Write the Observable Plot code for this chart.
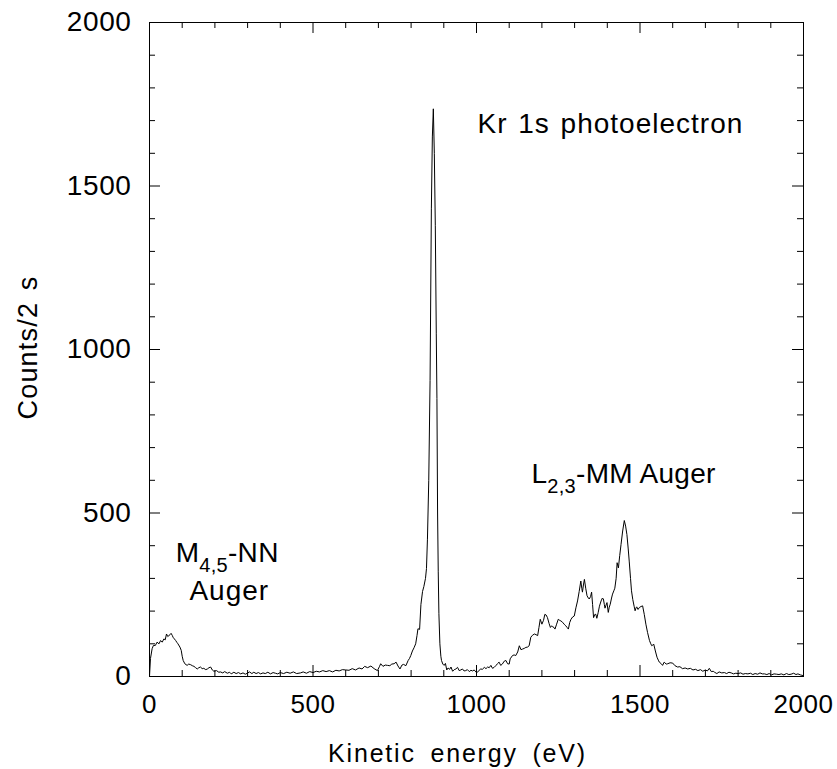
<!DOCTYPE html>
<html>
<head>
<meta charset="utf-8">
<script src="https://cdn.jsdelivr.net/npm/d3@7"></script>
<script src="https://cdn.jsdelivr.net/npm/@observablehq/plot@0.6"></script>
<style>
  html, body { margin: 0; padding: 0; background: #fff; }
  #chart svg { display: block; }
</style>
</head>
<body>
<div id="chart"></div>
<script>
// ---- Data ----
const energy = [
  0, 3, 8, 12, 18, 23, 29, 34, 39, 44, 48, 52, 56, 59, 63, 66, 70, 72, 76, 80, 84, 87, 93, 97, 100, 103, 108,
  115, 120, 126, 131, 136, 141, 146, 151, 156, 161, 166, 172, 177, 182, 187, 192, 197, 205, 212, 217, 224, 230,
  238, 245, 250, 258, 265, 272, 279, 286, 293, 299, 306, 313, 319, 326, 333, 340, 347, 354, 362, 370, 378, 385,
  392, 400, 410, 420, 430, 440, 450, 462, 470, 480, 490, 500, 510, 520, 530, 540, 550, 560, 570, 580, 590, 600,
  610, 620, 630, 641, 650, 658, 667, 677, 687, 697, 703, 707, 714, 721, 728, 735, 741, 748, 754, 760, 766, 772,
  777, 784, 791, 795, 799, 804, 809, 814, 818, 821, 826, 830, 835, 839, 844, 847, 850, 854, 858, 862, 865, 868,
  871, 874, 877, 879, 881, 883, 885, 888, 891, 893, 897, 901, 905, 909, 913, 918, 922, 927, 932, 937, 942, 947,
  952, 957, 962, 967, 972, 978, 983, 988, 993, 998, 1003, 1008, 1013, 1018, 1024, 1029, 1034, 1039, 1044, 1049,
  1054, 1059, 1064, 1069, 1074, 1079, 1085, 1090, 1095, 1100, 1103, 1110, 1115, 1120, 1126, 1131, 1136, 1141,
  1146, 1151, 1156, 1161, 1166, 1171, 1177, 1182, 1187, 1191, 1195, 1200, 1205, 1209, 1213, 1217, 1222, 1226,
  1230, 1233, 1237, 1240, 1245, 1250, 1254, 1258, 1263, 1268, 1273, 1277, 1281, 1285, 1289, 1294, 1299, 1304,
  1309, 1314, 1319, 1322, 1324, 1327, 1330, 1334, 1338, 1342, 1345, 1349, 1352, 1355, 1358, 1362, 1365, 1368,
  1372, 1376, 1381, 1385, 1388, 1391, 1393, 1396, 1399, 1403, 1406, 1409, 1413, 1416, 1420, 1423, 1427, 1430,
  1434, 1438, 1442, 1447, 1452, 1456, 1460, 1464, 1467, 1471, 1474, 1478, 1482, 1485, 1488, 1490, 1494, 1498,
  1503, 1508, 1513, 1518, 1523, 1529, 1533, 1536, 1539, 1542, 1547, 1552, 1556, 1559, 1564, 1569, 1574, 1580,
  1585, 1592, 1600, 1607, 1615, 1622, 1630, 1638, 1646, 1654, 1662, 1670, 1677, 1685, 1692, 1700, 1706, 1712,
  1718, 1724, 1728, 1735, 1742, 1750, 1758, 1765, 1772, 1779, 1786, 1793, 1800, 1808, 1815, 1822, 1830, 1838,
  1845, 1852, 1860, 1867, 1874, 1881, 1888, 1895, 1902, 1910, 1918, 1925, 1932, 1940, 1948, 1955, 1962, 1970,
  1977, 1983, 1990, 1998
];
const counts = [
  0, 55, 85, 95, 95, 105, 100, 110, 105, 115, 112, 130, 122, 125, 128, 132, 125, 120, 115, 110, 104, 100, 90, 80, 62, 49, 39,
  34, 38, 36, 33, 31, 27, 23, 27, 29, 24, 25, 21, 23, 27, 29, 20, 16, 18, 13, 14, 11, 15,
  10, 13, 8, 13, 9, 12, 8, 11, 7, 10, 14, 9, 13, 9, 12, 8, 11, 9, 13, 8, 12, 10,
  8, 12, 9, 13, 10, 14, 9, 11, 14, 10, 15, 12, 16, 14, 18, 15, 18, 14, 19, 17, 21, 20,
  19, 24, 20, 26, 23, 31, 27, 32, 24, 18, 30, 39, 31, 35, 34, 33, 38, 39, 44, 32, 23, 35,
  37, 33, 49, 55, 64, 78, 88, 100, 125, 146, 144, 220, 260, 275, 300, 330, 420, 600, 905, 1430, 1650, 1736,
  1600, 1380, 1050, 850, 500, 320, 192, 100, 62, 49, 38, 34, 40, 20, 26, 22, 29, 16, 21, 23, 28, 18,
  20, 23, 17, 18, 21, 15, 19, 17, 20, 14, 13, 19, 23, 22, 28, 24, 29, 27, 34, 25,
  28, 33, 39, 44, 34, 38, 47, 49, 39, 38, 54, 64, 66, 64, 75, 94, 82, 84,
  86, 89, 90, 94, 120, 126, 130, 128, 125, 150, 175, 160, 172, 190, 188, 180, 162, 150,
  155, 152, 150, 145, 160, 175, 172, 170, 166, 160, 155, 150, 145, 165, 175, 182, 185, 210,
  231, 260, 292, 270, 258, 280, 297, 270, 247, 240, 237, 245, 258, 220, 180, 190, 190, 178,
  195, 215, 231, 240, 237, 220, 209, 218, 226, 196, 212, 221, 240, 252, 262, 270, 300, 348,
  332, 370, 404, 445, 477, 460, 434, 390, 353, 300, 262, 235, 215, 201, 210, 213, 205, 211,
  214, 216, 190, 160, 135, 110, 100, 94, 96, 99, 78, 59, 50, 44, 40, 34, 44, 38,
  39, 42, 41, 33, 29, 30, 24, 26, 23, 25, 20, 22, 18, 21, 16, 20, 17, 25,
  15, 16, 13, 9, 14, 11, 12, 9, 13, 11, 8, 10, 9, 11, 7, 9, 8, 10,
  6, 9, 7, 11, 8, 8, 6, 9, 5, 8, 7, 6, 8, 5, 9, 6, 7, 10,
  6, 8, 5, 3
];

const xTicks = [0, 500, 1000, 1500, 2000];
const yTicks = [0, 500, 1000, 1500, 2000];
const xMinorTicks = [100, 200, 300, 400, 600, 700, 800, 900, 1100, 1200, 1300, 1400, 1600, 1700, 1800, 1900];
const yMinorTicks = [100, 200, 300, 400, 600, 700, 800, 900, 1100, 1200, 1300, 1400, 1600, 1700, 1800, 1900];

const xLabel = "Kinetic energy (eV)";
const yLabel = "Counts/2 s";

const annoText = ["Kr 1s photoelectron", "L_{2,3}-MM Auger", "M_{4,5}-NN", "Auger"];
const annoX = [1003, 1168, 80, 122];
const annoY = [1661, 593, 349, 234];

// ---- Build ----
const spectrum = energy.map((e, i) => ({e, c: counts[i]}));
const annos = annoText.map((t, i) => ({t, x: annoX[i], y: annoY[i]}));

const W = 837, H = 769, mL = 149, mR = 34, mT = 22, mB = 93;
const frameH = H - mT - mB, frameW = W - mL - mR;
const minorLen = 6, majorLen = 11;

const plot = Plot.plot({
  width: W, height: H,
  marginLeft: mL, marginRight: mR, marginTop: mT, marginBottom: mB,
  style: {fontFamily: "'Liberation Sans', Arial, Helvetica, sans-serif", color: "#000", background: "#fff"},
  x: {domain: [0, 2000]},
  y: {domain: [0, 2000]},
  marks: [
    Plot.frame({stroke: "#000", strokeWidth: 1}),
    // inward ticks: bottom/top minor and major
    Plot.ruleX(xMinorTicks, {x: d => d, insetTop: frameH - minorLen, stroke: "#000"}),
    Plot.ruleX(xMinorTicks, {x: d => d, insetBottom: frameH - minorLen, stroke: "#000"}),
    Plot.ruleX(xTicks, {x: d => d, insetTop: frameH - majorLen, stroke: "#000"}),
    Plot.ruleX(xTicks, {x: d => d, insetBottom: frameH - majorLen, stroke: "#000"}),
    Plot.ruleY(yMinorTicks, {y: d => d, insetRight: frameW - minorLen, stroke: "#000"}),
    Plot.ruleY(yMinorTicks, {y: d => d, insetLeft: frameW - minorLen, stroke: "#000"}),
    Plot.ruleY(yTicks, {y: d => d, insetRight: frameW - majorLen, stroke: "#000"}),
    Plot.ruleY(yTicks, {y: d => d, insetLeft: frameW - majorLen, stroke: "#000"}),
    Plot.axisX({ticks: xTicks, tickSize: 0, tickPadding: 18, fontSize: 26, label: null, tickFormat: d => String(d)}),
    Plot.axisY({ticks: yTicks, tickSize: 0, tickPadding: 18, fontSize: 28, label: null, tickFormat: d => String(d)}),
    Plot.line(spectrum, {x: "e", y: "c", stroke: "#000", strokeWidth: 1}),
    Plot.text(annos, {x: "x", y: "y", text: "t", textAnchor: "start", lineAnchor: "bottom", fontSize: 28, fill: "#000"}),
    Plot.text([xLabel], {frameAnchor: "bottom", textAnchor: "middle", dy: 85, dx: -19, lineAnchor: "bottom", fontSize: 25, fill: "#000"}),
    Plot.text([yLabel], {frameAnchor: "left", textAnchor: "middle", rotate: -90, dx: -113, dy: -2, lineAnchor: "bottom", fontSize: 27, fill: "#000"})
  ]
});

// styling tweaks: letter spacing and subscripts
const svg = d3.select(plot);
svg.selectAll("text").each(function () {
  const t = this.textContent;
  const el = d3.select(this);
  if (t === xLabel) {
    el.style("letter-spacing", "1.8px").style("word-spacing", "6px");
  } else if (t === yLabel) {
    el.style("letter-spacing", "1.2px").style("word-spacing", "3px");
  } else if (annoText.includes(t)) {
    const m = t.match(/^(.*)_\{(.*)\}(.*)$/);
    if (m) {
      el.style("letter-spacing", "0.3px");
      this.textContent = "";
      el.append("tspan").text(m[1]);
      el.append("tspan").attr("dy", "10px").attr("font-size", "20px").text(m[2]);
      el.append("tspan").attr("dy", "-10px").text(m[3]);
    } else {
      el.style("letter-spacing", "1px").style("word-spacing", "2px");
    }
  } else {
    el.style("letter-spacing", "0.6px");
  }
});

document.getElementById("chart").appendChild(plot);
</script>
</body>
</html>
